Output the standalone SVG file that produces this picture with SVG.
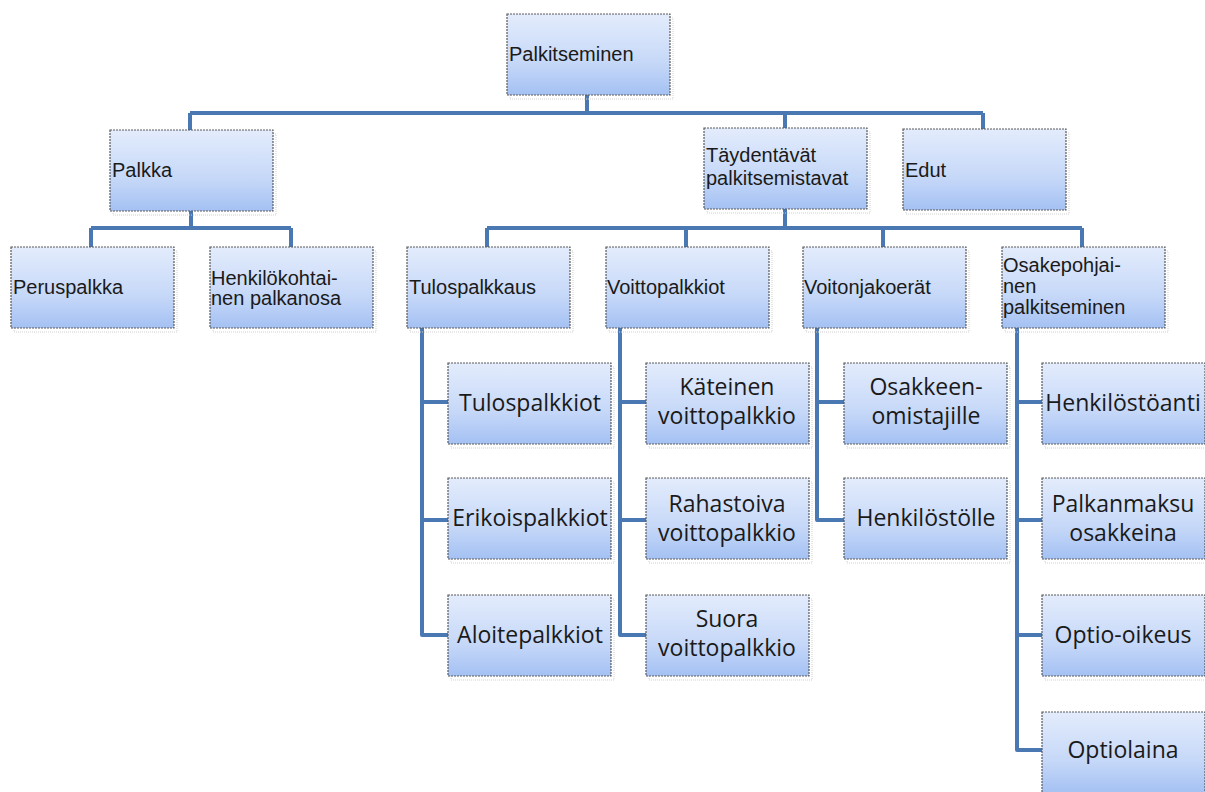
<svg xmlns="http://www.w3.org/2000/svg" width="1205" height="792" viewBox="0 0 1205 792">
<defs>
<linearGradient id="g" x1="0" y1="0" x2="0" y2="1">
<stop offset="0" stop-color="#e3ecfc"/>
<stop offset="0.6" stop-color="#c6d8f8"/>
<stop offset="1" stop-color="#a4c1f3"/>
</linearGradient>
<style>
.box{fill:url(#g);stroke:#5a5a5a;stroke-width:1.2;stroke-dasharray:2 1}
.sh{fill:none;stroke:#d0d0d0;stroke-width:1;stroke-dasharray:1 1}
.t{font-family:"Liberation Sans",Arial,sans-serif;font-size:20px;fill:#1a1a1a}
.c{font-family:"Open Sans","Noto Sans",sans-serif;font-size:23px;fill:#1a1a1a;text-anchor:middle}
.ln{fill:none;stroke:#4a78b2;stroke-width:4;stroke-linejoin:round;stroke-linecap:butt}
</style>
</defs>
<rect width="1205" height="792" fill="#ffffff"/>
<g id="connectors">
<path class="ln" d="M587,95 V113 M190,113 H983 M190,113 V130 M785,113 V128 M983,113 V129"/>
<path class="ln" d="M191,211 V228 M91,228 H291 M91,228 V247 M291,228 V247"/>
<path class="ln" d="M785,209 V228 M487,228 H1082 M487,228 V247 M686,228 V247 M883,228 V247 M1082,228 V247"/>
<path class="ln" d="M422,328 V635 H448 M422,402 H448 M422,520 H448"/>
<path class="ln" d="M620,328 V635 H646 M620,402 H646 M620,520 H646"/>
<path class="ln" d="M817,328 V520 H844 M817,402 H844"/>
<path class="ln" d="M1017,328 V750 H1042 M1017,402 H1042 M1017,520 H1042 M1017,635 H1042"/>
</g>
<g id="n-palkitseminen"><rect class="sh" x="510" y="18" width="163" height="81"/><rect class="box" x="507" y="14" width="163" height="81"/><text class="t" x="509" y="61">Palkitseminen</text></g>
<g id="n-palkka"><rect class="sh" x="113" y="134" width="163" height="81"/><rect class="box" x="110" y="130" width="163" height="81"/><text class="t" x="112" y="177">Palkka</text></g>
<g id="n-taydentavat"><rect class="sh" x="707" y="132" width="163" height="81"/><rect class="box" x="704" y="128" width="163" height="81"/><text class="t" x="706" y="162">Täydentävät</text><text class="t" x="706" y="185">palkitsemistavat</text></g>
<g id="n-edut"><rect class="sh" x="906" y="133" width="163" height="81"/><rect class="box" x="903" y="129" width="163" height="81"/><text class="t" x="905" y="177">Edut</text></g>
<g id="n-peruspalkka"><rect class="sh" x="14" y="251" width="163" height="81"/><rect class="box" x="11" y="247" width="163" height="81"/><text class="t" x="13" y="294">Peruspalkka</text></g>
<g id="n-henkilokohtainen"><rect class="sh" x="213" y="251" width="163" height="81"/><rect class="box" x="210" y="247" width="163" height="81"/><text class="t" x="211" y="285">Henkilökohtai-</text><text class="t" x="211" y="305">nen palkanosa</text></g>
<g id="n-tulospalkkaus"><rect class="sh" x="410" y="251" width="163" height="81"/><rect class="box" x="407" y="247" width="163" height="81"/><text class="t" x="409" y="294">Tulospalkkaus</text></g>
<g id="n-voittopalkkiot"><rect class="sh" x="609" y="251" width="163" height="81"/><rect class="box" x="606" y="247" width="163" height="81"/><text class="t" x="607" y="294">Voittopalkkiot</text></g>
<g id="n-voitonjakoerat"><rect class="sh" x="806" y="251" width="163" height="81"/><rect class="box" x="803" y="247" width="163" height="81"/><text class="t" x="804" y="294">Voitonjakoerät</text></g>
<g id="n-osakepohjainen"><rect class="sh" x="1005" y="251" width="163" height="81"/><rect class="box" x="1002" y="247" width="163" height="81"/><text class="t" x="1003" y="272">Osakepohjai-</text><text class="t" x="1003" y="293">nen</text><text class="t" x="1003" y="314">palkitseminen</text></g>
<g id="n-tulospalkkiot"><rect class="sh" x="451" y="367" width="163" height="81"/><rect class="box" x="448" y="363" width="163" height="81"/><text class="c" x="530" y="411">Tulospalkkiot</text></g>
<g id="n-erikoispalkkiot"><rect class="sh" x="451" y="482" width="163" height="81"/><rect class="box" x="448" y="478" width="163" height="81"/><text class="c" x="530" y="526">Erikoispalkkiot</text></g>
<g id="n-aloitepalkkiot"><rect class="sh" x="451" y="599" width="163" height="81"/><rect class="box" x="448" y="595" width="163" height="81"/><text class="c" x="530" y="643">Aloitepalkkiot</text></g>
<g id="n-kateinen"><rect class="sh" x="649" y="367" width="163" height="81"/><rect class="box" x="646" y="363" width="163" height="81"/><text class="c" x="727" y="395">Käteinen</text><text class="c" x="727" y="424">voittopalkkio</text></g>
<g id="n-rahastoiva"><rect class="sh" x="649" y="482" width="163" height="81"/><rect class="box" x="646" y="478" width="163" height="81"/><text class="c" x="727" y="512">Rahastoiva</text><text class="c" x="727" y="541">voittopalkkio</text></g>
<g id="n-suora"><rect class="sh" x="649" y="599" width="163" height="81"/><rect class="box" x="646" y="595" width="163" height="81"/><text class="c" x="727" y="627">Suora</text><text class="c" x="727" y="656">voittopalkkio</text></g>
<g id="n-osakkeenomistajille"><rect class="sh" x="847" y="367" width="163" height="81"/><rect class="box" x="844" y="363" width="163" height="81"/><text class="c" x="926" y="395">Osakkeen-</text><text class="c" x="926" y="424">omistajille</text></g>
<g id="n-henkilostolle"><rect class="sh" x="847" y="482" width="163" height="81"/><rect class="box" x="844" y="478" width="163" height="81"/><text class="c" x="926" y="526">Henkilöstölle</text></g>
<g id="n-henkilostoanti"><rect class="sh" x="1045" y="367" width="163" height="81"/><rect class="box" x="1042" y="363" width="163" height="81"/><text class="c" x="1123" y="411">Henkilöstöanti</text></g>
<g id="n-palkanmaksu"><rect class="sh" x="1045" y="482" width="163" height="81"/><rect class="box" x="1042" y="478" width="163" height="81"/><text class="c" x="1123" y="512">Palkanmaksu</text><text class="c" x="1123" y="541">osakkeina</text></g>
<g id="n-optio-oikeus"><rect class="sh" x="1045" y="599" width="163" height="81"/><rect class="box" x="1042" y="595" width="163" height="81"/><text class="c" x="1123" y="643">Optio-oikeus</text></g>
<g id="n-optiolaina"><rect class="sh" x="1045" y="716" width="163" height="81"/><rect class="box" x="1042" y="712" width="163" height="81"/><text class="c" x="1123" y="758">Optiolaina</text></g>
</svg>
